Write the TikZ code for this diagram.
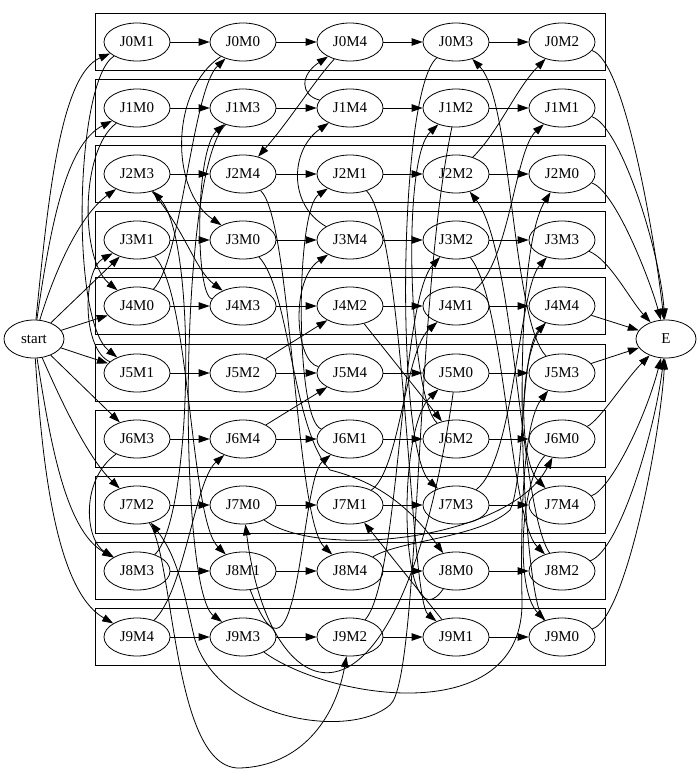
\documentclass[tikz,border=0pt]{standalone}
\usepackage{fontspec}
\setmainfont{Liberation Serif}
\usetikzlibrary{shapes.geometric}
\usetikzlibrary{arrows.meta}
\tikzset{
    op/.style={shape=ellipse, draw=black, line width=0.8pt, minimum width=66pt, minimum height=38pt, inner sep=0pt, font=\fontsize{15}{18}\selectfont},
    jobbox/.style={draw=black, line width=0.8pt},
    link/.style={-{Triangle[length=11pt,width=7.5pt]}, line width=0.8pt}}

\begin{document}
\begin{tikzpicture}[x=1pt, y=-1pt]
        \useasboundingbox (0,0) rectangle (700,774);

                    % one box per job
                    \draw[jobbox] (95,13.5) rectangle (605,70.5);
                    \draw[jobbox] (95,79.5) rectangle (605,136.5);
                    \draw[jobbox] (95,145.5) rectangle (605,202.5);
                    \draw[jobbox] (95,211.5) rectangle (605,268.5);
                    \draw[jobbox] (95,277.5) rectangle (605,334.5);
                    \draw[jobbox] (95,344.5) rectangle (605,401.5);
                    \draw[jobbox] (95,410.5) rectangle (605,467.5);
                    \draw[jobbox] (95,476.5) rectangle (605,533.5);
                    \draw[jobbox] (95,542.5) rectangle (605,599.5);
                    \draw[jobbox] (95,608.5) rectangle (605,665.5);

                    \node[op, minimum width=60pt] (start) at (34,339) {start};
                    \node[op, minimum width=60pt] (E) at (666,339) {E};

                    \node[op] (J0M1) at (137,42) {J0M1};
                    \node[op] (J0M0) at (243,42) {J0M0};
                    \node[op] (J0M4) at (350,42) {J0M4};
                    \node[op] (J0M3) at (456,42) {J0M3};
                    \node[op] (J0M2) at (562,42) {J0M2};

                    \node[op] (J1M0) at (137,108) {J1M0};
                    \node[op] (J1M3) at (243,108) {J1M3};
                    \node[op] (J1M4) at (350,108) {J1M4};
                    \node[op] (J1M2) at (456,108) {J1M2};
                    \node[op] (J1M1) at (562,108) {J1M1};

                    \node[op] (J2M3) at (137,174) {J2M3};
                    \node[op] (J2M4) at (243,174) {J2M4};
                    \node[op] (J2M1) at (350,174) {J2M1};
                    \node[op] (J2M2) at (456,174) {J2M2};
                    \node[op] (J2M0) at (562,174) {J2M0};

                    \node[op] (J3M1) at (137,240) {J3M1};
                    \node[op] (J3M0) at (243,240) {J3M0};
                    \node[op] (J3M4) at (350,240) {J3M4};
                    \node[op] (J3M2) at (456,240) {J3M2};
                    \node[op] (J3M3) at (562,240) {J3M3};

                    \node[op] (J4M0) at (137,306) {J4M0};
                    \node[op] (J4M3) at (243,306) {J4M3};
                    \node[op] (J4M2) at (350,306) {J4M2};
                    \node[op] (J4M1) at (456,306) {J4M1};
                    \node[op] (J4M4) at (562,306) {J4M4};

                    \node[op] (J5M1) at (137,373) {J5M1};
                    \node[op] (J5M2) at (243,373) {J5M2};
                    \node[op] (J5M4) at (350,373) {J5M4};
                    \node[op] (J5M0) at (456,373) {J5M0};
                    \node[op] (J5M3) at (562,373) {J5M3};

                    \node[op] (J6M3) at (137,439) {J6M3};
                    \node[op] (J6M4) at (243,439) {J6M4};
                    \node[op] (J6M1) at (350,439) {J6M1};
                    \node[op] (J6M2) at (456,439) {J6M2};
                    \node[op] (J6M0) at (562,439) {J6M0};

                    \node[op] (J7M2) at (137,505) {J7M2};
                    \node[op] (J7M0) at (243,505) {J7M0};
                    \node[op] (J7M1) at (350,505) {J7M1};
                    \node[op] (J7M3) at (456,505) {J7M3};
                    \node[op] (J7M4) at (562,505) {J7M4};

                    \node[op] (J8M3) at (137,571) {J8M3};
                    \node[op] (J8M1) at (243,571) {J8M1};
                    \node[op] (J8M4) at (350,571) {J8M4};
                    \node[op] (J8M0) at (456,571) {J8M0};
                    \node[op] (J8M2) at (562,571) {J8M2};

                    \node[op] (J9M4) at (137,637) {J9M4};
                    \node[op] (J9M3) at (243,637) {J9M3};
                    \node[op] (J9M2) at (350,637) {J9M2};
                    \node[op] (J9M1) at (456,637) {J9M1};
                    \node[op] (J9M0) at (562,637) {J9M0};

                    % start to the first operation of each job
                    \draw[link] (start) .. controls (48,200) and (60,75) .. (J0M1);
                    \draw[link] (start) .. controls (50,230) and (65,145) .. (J1M0);
                    \draw[link] (start) .. controls (55,270) and (80,215) .. (J2M3);
                    \draw[link] (start) -- (J3M1);
                    \draw[link] (start) -- (J4M0);
                    \draw[link] (start) -- (J5M1);
                    \draw[link] (start) -- (J6M3);
                    \draw[link] (start) .. controls (65,410) and (90,460) .. (J7M2);
                    \draw[link] (start) .. controls (50,440) and (65,530) .. (J8M3);
                    \draw[link] (start) .. controls (42,460) and (55,590) .. (J9M4);

                    % job order
                    \draw[link] (J0M1) -- (J0M0);
                    \draw[link] (J0M0) -- (J0M4);
                    \draw[link] (J0M4) -- (J0M3);
                    \draw[link] (J0M3) -- (J0M2);
                    \draw[link] (J1M0) -- (J1M3);
                    \draw[link] (J1M3) -- (J1M4);
                    \draw[link] (J1M4) -- (J1M2);
                    \draw[link] (J1M2) -- (J1M1);
                    \draw[link] (J2M3) -- (J2M4);
                    \draw[link] (J2M4) -- (J2M1);
                    \draw[link] (J2M1) -- (J2M2);
                    \draw[link] (J2M2) -- (J2M0);
                    \draw[link] (J3M1) -- (J3M0);
                    \draw[link] (J3M0) -- (J3M4);
                    \draw[link] (J3M4) -- (J3M2);
                    \draw[link] (J3M2) -- (J3M3);
                    \draw[link] (J4M0) -- (J4M3);
                    \draw[link] (J4M3) -- (J4M2);
                    \draw[link] (J4M2) -- (J4M1);
                    \draw[link] (J4M1) -- (J4M4);
                    \draw[link] (J5M1) -- (J5M2);
                    \draw[link] (J5M2) -- (J5M4);
                    \draw[link] (J5M4) -- (J5M0);
                    \draw[link] (J5M0) -- (J5M3);
                    \draw[link] (J6M3) -- (J6M4);
                    \draw[link] (J6M4) -- (J6M1);
                    \draw[link] (J6M1) -- (J6M2);
                    \draw[link] (J6M2) -- (J6M0);
                    \draw[link] (J7M2) -- (J7M0);
                    \draw[link] (J7M0) -- (J7M1);
                    \draw[link] (J7M1) -- (J7M3);
                    \draw[link] (J7M3) -- (J7M4);
                    \draw[link] (J8M3) -- (J8M1);
                    \draw[link] (J8M1) -- (J8M4);
                    \draw[link] (J8M4) -- (J8M0);
                    \draw[link] (J8M0) -- (J8M2);
                    \draw[link] (J9M4) -- (J9M3);
                    \draw[link] (J9M3) -- (J9M2);
                    \draw[link] (J9M2) -- (J9M1);
                    \draw[link] (J9M1) -- (J9M0);

                    % machine M0
                    \draw[link] (J1M0) .. controls (80,150) and (80,260) .. (J4M0);
                    \draw[link] (J4M0) .. controls (182,260) and (192,90) .. (J0M0);
                    \draw[link] (J0M0) .. controls (170,90) and (170,190) .. (J3M0);
                    \draw[link] (J3M0) .. controls (290,290) and (292,430) .. (330,470) .. controls (370,480) and (405,500) .. (J8M0);
                    \draw[link] (J8M0) .. controls (400,650) and (395,430) .. (J5M0);
                    \draw[link] (J5M0) .. controls (400,760) and (270,720) .. (J7M0);
                    \draw[link] (J7M0) .. controls (320,560) and (510,540) .. (J6M0);
                    \draw[link] (J6M0) .. controls (520,480) and (515,590) .. (J9M0);
                    \draw[link] (J9M0) .. controls (522,600) and (508,260) .. (J2M0);

                    % machine M1
                    \draw[link] (J0M1) .. controls (75,80) and (70,320) .. (J5M1);
                    \draw[link] (J5M1) .. controls (82,350) and (82,270) .. (J3M1);
                    \draw[link] (J3M1) .. controls (190,290) and (190,520) .. (J8M1);
                    \draw[link] (J8M1) .. controls (300,720) and (300,480) .. (J6M1);
                    \draw[link] (J6M1) .. controls (295,420) and (295,210) .. (J2M1);
                    \draw[link] (J2M1) .. controls (405,230) and (410,600) .. (J9M1);
                    \draw[link] (J9M1) -- (J7M1);
                    \draw[link] (J7M1) .. controls (400,470) and (405,350) .. (J4M1);
                    \draw[link] (J4M1) .. controls (510,260) and (515,150) .. (J1M1);

                    % machine M2
                    \draw[link] (J5M2) -- (J4M2);
                    \draw[link] (J4M2) -- (J6M2);
                    \draw[link] (J6M2) .. controls (410,400) and (400,160) .. (J1M2);
                    \draw[link] (J1M2) .. controls (415,300) and (420,680) .. (390,705) .. controls (350,740) and (220,720) .. (195,640) .. controls (185,600) and (180,560) .. (J7M2);
                    \draw[link] (J7M2) .. controls (175,560) and (172,770) .. (240,768) .. controls (300,766) and (335,720) .. (J9M2);
                    \draw[link] (J9M2) .. controls (400,580) and (400,300) .. (J3M2);
                    \draw[link] (J3M2) .. controls (505,300) and (510,520) .. (J8M2);
                    \draw[link] (J8M2) .. controls (520,510) and (515,250) .. (J2M2);
                    \draw[link] (J2M2) .. controls (500,130) and (515,90) .. (J0M2);

                    % machine M3
                    \draw[link] (J6M3) .. controls (80,480) and (85,540) .. (J8M3);
                    \draw[link] (J8M3) .. controls (192,520) and (198,240) .. (J2M3);
                    \draw[link] (J2M3) .. controls (185,230) and (195,270) .. (J4M3);
                    \draw[link] (J4M3) .. controls (195,295) and (195,150) .. (J1M3);
                    \draw[link] (J1M3) .. controls (178,170) and (178,590) .. (J9M3);
                    \draw[link] (J9M3) .. controls (330,700) and (525,730) .. (522,600) .. controls (520,500) and (525,420) .. (J5M3);
                    \draw[link] (J5M3) .. controls (512,320) and (512,100) .. (J0M3);
                    \draw[link] (J0M3) .. controls (398,90) and (395,450) .. (J7M3);
                    \draw[link] (J7M3) .. controls (515,460) and (518,290) .. (J3M3);

                    % machine M4
                    \draw[link] (J9M4) .. controls (185,590) and (195,480) .. (J6M4);
                    \draw[link] (J6M4) -- (J5M4);
                    \draw[link] (J5M4) .. controls (295,362) and (290,280) .. (J3M4);
                    \draw[link] (J3M4) .. controls (288,205) and (290,150) .. (J1M4);
                    \draw[link] (J1M4) .. controls (300,95) and (300,75) .. (J0M4);
                    \draw[link] (J0M4) .. controls (315,80) and (290,120) .. (J2M4);
                    \draw[link] (J2M4) .. controls (292,220) and (295,520) .. (J8M4);
                    \draw[link] (J8M4) .. controls (400,540) and (480,538) .. (510,510) .. controls (525,480) and (520,350) .. (J4M4);
                    \draw[link] (J4M4) .. controls (518,350) and (518,460) .. (J7M4);

                    % last operations to E
                    \draw[link] (J0M2) .. controls (625,60) and (655,240) .. (E);
                    \draw[link] (J1M1) .. controls (620,125) and (660,250) .. (E);
                    \draw[link] (J2M0) .. controls (615,190) and (650,280) .. (E);
                    \draw[link] (J3M3) .. controls (610,260) and (630,300) .. (E);
                    \draw[link] (J4M4) -- (E);
                    \draw[link] (J5M3) -- (E);
                    \draw[link] (J6M0) .. controls (600,420) and (625,380) .. (E);
                    \draw[link] (J7M4) .. controls (610,490) and (645,420) .. (E);
                    \draw[link] (J8M2) .. controls (620,550) and (655,430) .. (E);
                    \draw[link] (J9M0) .. controls (625,620) and (660,440) .. (E);

                \end{tikzpicture}
\end{document}
